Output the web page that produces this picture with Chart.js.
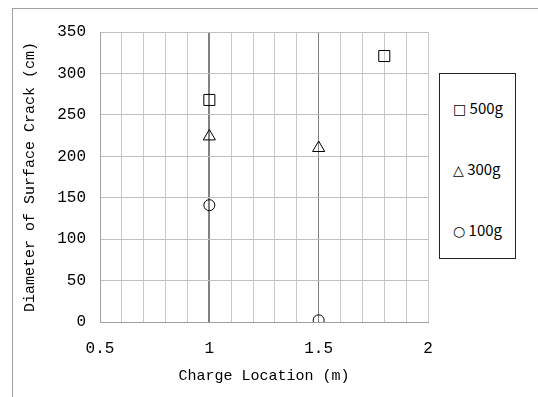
<!DOCTYPE html>
<html>
<head>
<meta charset="utf-8">
<script src="https://cdn.jsdelivr.net/npm/chart.js@4"></script>
<style>
  body { margin: 0; background: #fff; }
  #wrap { position: relative; width: 538px; height: 397px; overflow: hidden; }
  #frame { position: absolute; left: 12px; top: 8px; width: 600px; height: 500px; border: 1px solid #a0a0a0; }
  #grafico { position: absolute; left: 0; top: 0; }
  #legenda { position: absolute; left: 439px; top: 73px; width: 75px; height: 184px;
    border: 1px solid #222; background: #fff; font-family: "Noto Sans CJK JP", sans-serif; font-size: 15px; }
  #legenda div { position: absolute; left: 13px; line-height: 18px; }
  #legenda span { font-family: "DejaVu Sans"; font-size: 14px; }
</style>
</head>
<body>
<div id="wrap">
  <div id="frame"></div>
  <canvas id="grafico" width="538" height="397"></canvas>
  <div id="legenda">
    <div style="top:25px"><span>□</span> 500g</div>
    <div style="top:86px"><span>△</span> 300g</div>
    <div style="top:147px"><span>○</span> 100g</div>
  </div>
</div>
<script>
        // dados
        var local500 = [1.0, 1.8];
        var diam500 = [268, 321];
        var local300 = [1.0, 1.5];
        var diam300 = [224, 210];
        var local100 = [1.0, 1.5];
        var diam100 = [141, 2];

        var xTicks = [0.5, 1, 1.5, 2];
        var yTicks = [0, 50, 100, 150, 200, 250, 300, 350];

        function pontos(xs, ys) {
            return xs.map(function (x, i) { return { x: x, y: ys[i] }; });
        }

        function serie(nome, xs, ys, estilo, raio) {
            return {
                label: nome,
                data: pontos(xs, ys),
                pointStyle: estilo,
                pointRadius: raio,
                pointHoverRadius: raio,
                pointBorderWidth: 1,
                pointBorderColor: '#000',
                pointBackgroundColor: 'rgba(255,255,255,0)',
                showLine: false
            };
        }

        var fonteEixo = { family: 'Liberation Mono', size: 16 };
        var fonteTitulo = { family: 'Liberation Mono', size: 15 };

        let configGrafico = {
            type: 'scatter',
            data: {
                datasets: [
                    serie('500g', local500, diam500, 'rect', 7.8),
                    serie('300g', local300, diam300, 'triangle', 7),
                    serie('100g', local100, diam100, 'circle', 5.5)
                ]
            },
            options: {
                responsive: false,
                animation: false,
                layout: { padding: { left: 17, right: 110, top: 32, bottom: 8 } },
                plugins: {
                    legend: { display: false },
                    tooltip: { enabled: false }
                },
                scales: {
                    x: {
                        type: 'linear',
                        min: 0.5,
                        max: 2,
                        afterFit: function (ax) { ax.height = 67; },
                        ticks: {
                            stepSize: 0.1,
                            autoSkip: false,
                            maxRotation: 0,
                            color: '#000',
                            font: fonteEixo,
                            padding: 17,
                            callback: function (v) {
                                var r = Math.round(v * 10) / 10;
                                return xTicks.indexOf(r) >= 0 ? String(r) : '';
                            }
                        },
                        grid: {
                            drawTicks: false,
                            color: function (c) {
                                var v = Math.round(c.tick.value * 10) / 10;
                                return (v === 1 || v === 1.5) ? '#808080' : '#c8c8c8';
                            },
                            lineWidth: function (c) {
                                var v = Math.round(c.tick.value * 10) / 10;
                                return v === 1 ? 2 : 1;
                            }
                        },
                        border: { color: '#a0a0a0' },
                        title: {
                            display: true,
                            text: 'Charge Location (m)',
                            color: '#000',
                            font: fonteTitulo,
                            padding: { top: 12 }
                        }
                    },
                    y: {
                        min: 0,
                        max: 350,
                        afterFit: function (ax) { ax.width = 83; },
                        afterBuildTicks: function (ax) {
                            ax.ticks = yTicks.map(function (v) { return { value: v }; });
                        },
                        ticks: {
                            color: '#000',
                            font: fonteEixo,
                            padding: 14
                        },
                        grid: { drawTicks: false, color: '#c0c0c0' },
                        border: { color: '#a0a0a0' },
                        title: {
                            display: true,
                            text: 'Diameter of Surface Crack (cm)',
                            color: '#000',
                            font: fonteTitulo,
                            padding: { bottom: 4 }
                        }
                    }
                }
            }
        };

        let grafico = new Chart(
            document.getElementById('grafico'),
            configGrafico
        );
</script>
</body>
</html>
